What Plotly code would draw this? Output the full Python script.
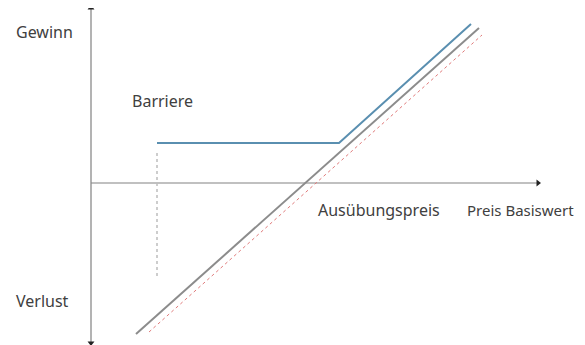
import plotly.graph_objects as go

# coordinates: origin at the axis crossing, x = price of underlying, y = profit
axis_x = [0, 447]
axis_y = [-160, 175]

underlying_x = [45, 388]
underlying_y = [-151, 155]

forward_x = [58, 391]
forward_y = [-149, 148]

payoff_x = [66, 248, 380]
payoff_y = [40, 40, 159]

barrier_x = [66, 66]
barrier_y = [30, -94]

labels = ["Gewinn", "Barriere", "Verlust", "Ausübungspreis", "Preis Basiswert"]
label_x = [-77, 39, -77, 225, 374]
label_y = [151, 82, -118, -27, -27]

fig = go.Figure()

# axes
fig.add_trace(go.Scatter(x=axis_x, y=[0, 0], mode="lines",
                         line=dict(color="#ababab", width=1.3), hoverinfo="skip"))
fig.add_trace(go.Scatter(x=[0, 0], y=axis_y, mode="lines",
                         line=dict(color="#8a8a8a", width=1.3), hoverinfo="skip"))
fig.add_trace(go.Scatter(x=[axis_x[1], 0, 0], y=[0, axis_y[1], axis_y[0]], mode="markers",
                         marker=dict(symbol=["triangle-right", "triangle-up", "triangle-down"],
                                     size=6, color="#222222"),
                         cliponaxis=False, hoverinfo="skip"))

fig.add_trace(go.Scatter(x=barrier_x, y=barrier_y, mode="lines",
                         line=dict(color="#bdbdbd", width=1.5, dash="dot"), hoverinfo="skip"))
fig.add_trace(go.Scatter(x=forward_x, y=forward_y, mode="lines",
                         line=dict(color="#e07a7a", width=1, dash="dot"), hoverinfo="skip"))
fig.add_trace(go.Scatter(x=underlying_x, y=underlying_y, mode="lines",
                         line=dict(color="#8c8c8c", width=2), hoverinfo="skip"))
fig.add_trace(go.Scatter(x=payoff_x, y=payoff_y, mode="lines",
                         line=dict(color="#5a8fb0", width=2), hoverinfo="skip"))

for t, x, y in zip(labels, label_x, label_y):
    # the right-hand label has to fit inside the window
    size = 15 if t == "Preis Basiswert" else 16
    fig.add_annotation(x=x, y=y, text=t, showarrow=False, xanchor="left", yanchor="middle",
                       font=dict(family="Noto Sans", size=size, color="#404040"))

# page body has an 8px margin, so ranges are shifted to keep the origin where it belongs
fig.update_layout(
    width=585, height=345,
    margin=dict(l=0, r=0, t=0, b=0),
    plot_bgcolor="white", paper_bgcolor="white",
    showlegend=False,
    xaxis=dict(range=[-83, 502], visible=False, fixedrange=True),
    yaxis=dict(range=[-170, 175], visible=False, fixedrange=True),
)

fig.write_html("out.html")
